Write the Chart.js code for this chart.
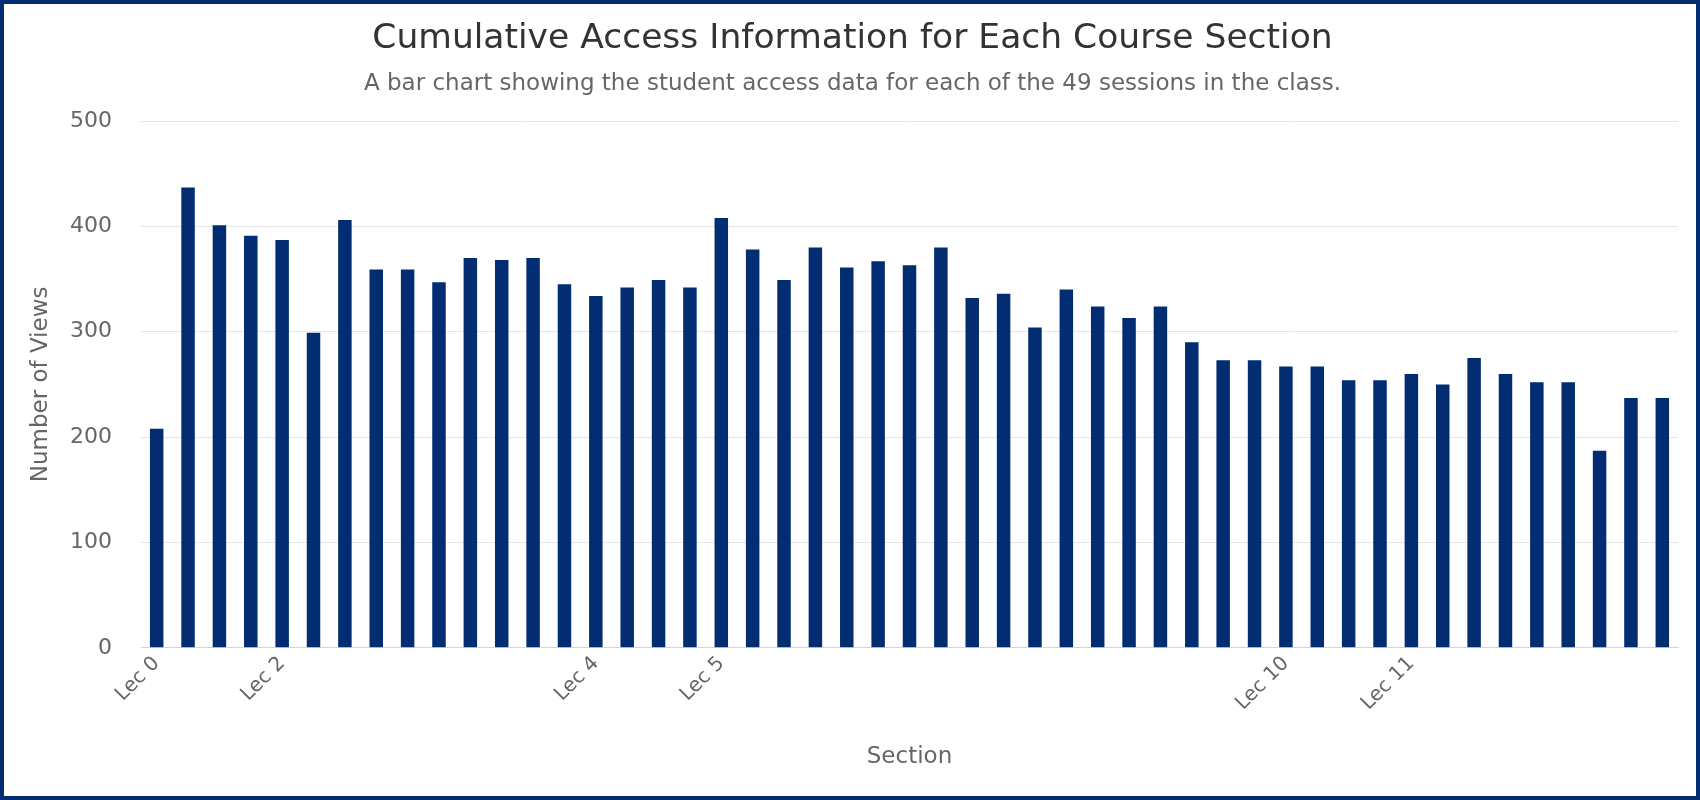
<!DOCTYPE html>
<html lang="en">
<head>
<meta charset="UTF-8">
<title>Cumulative Access Information for Each Course Section</title>
<script src="https://cdn.jsdelivr.net/npm/chart.js"></script>
<style>
html, body {
margin: 0;
padding: 0;
background: #ffffff;
}
.frame {
width: 1700px;
height: 800px;
box-sizing: border-box;
border: 4px solid #022d73;
background: #ffffff;
}
.chart-box {
position: relative;
width: 1692px;
height: 792px;
}
</style>
</head>
<body>
<div class="frame">
<div class="chart-box">
<canvas id="accessChart"></canvas>
</div>
</div>

<script>
// 49 sessions; only the first session of some lectures carries a label
const sectionLabels = [
"Lec 0", "", "", "", "Lec 2", "", "", "", "", "",
"", "", "", "", "Lec 4", "", "", "", "Lec 5", "",
"", "", "", "", "", "", "", "", "", "",
"", "", "", "", "", "", "Lec 10", "", "", "",
"Lec 11", "", "", "", "", "", "", "", ""
];

// Number of views per session
const viewCounts = [
208, 437, 401, 391, 387, 299, 406, 359, 359, 347,
370, 368, 370, 345, 334, 342, 349, 342, 408, 378,
349, 380, 361, 367, 363, 380, 332, 336, 304, 340,
324, 313, 324, 290, 273, 273, 267, 267, 254, 254,
260, 250, 275, 260, 252, 252, 187, 237, 237
];

const yTicks = [0, 100, 200, 300, 400, 500];

const fontFamily = "'DejaVu Sans', Verdana, sans-serif";
const barColor = '#022d73';

const ctx = document.getElementById('accessChart').getContext('2d');

new Chart(ctx, {
type: 'bar',
data: {
labels: sectionLabels,
datasets: [{
label: 'Views',
data: viewCounts,
backgroundColor: barColor,
borderWidth: 0,
categoryPercentage: 1.0,
barPercentage: 0.43
}]
},
options: {
responsive: true,
maintainAspectRatio: false,
animation: false,
layout: {
padding: { left: 23, right: 18, top: 0, bottom: 25 }
},
plugins: {
legend: { display: false },
tooltip: { enabled: false },
title: {
display: true,
text: 'Cumulative Access Information for Each Course Section',
color: '#333333',
font: { family: fontFamily, size: 34.5, weight: 'normal' },
padding: { top: 14, bottom: 11 }
},
subtitle: {
display: true,
text: 'A bar chart showing the student access data for each of the 49 sessions in the class.',
color: '#666666',
font: { family: fontFamily, size: 23, weight: 'normal' },
padding: { top: 0, bottom: 23 }
}
},
scales: {
x: {
grid: { display: false, drawTicks: false },
border: { display: true, color: '#ccd6eb', width: 1 },
ticks: {
autoSkip: false,
maxRotation: 45,
minRotation: 45,
color: '#666666',
font: { family: fontFamily, size: 20 },
padding: 4
},
title: {
display: true,
text: 'Section',
color: '#666666',
font: { family: fontFamily, size: 23 },
padding: { top: 24, bottom: 0 }
}
},
y: {
min: 0,
max: 500,
afterBuildTicks: function(axis) {
axis.ticks = yTicks.map(v => ({ value: v }));
},
afterFit: function(axis) {
// fixed width so the plot starts where the original one does
axis.width = 114;
},
grid: { color: '#e6e6e6', lineWidth: 1, drawTicks: false },
border: { display: false },
ticks: {
color: '#666666',
font: { family: fontFamily, size: 22 },
padding: 29
},
title: {
display: true,
text: 'Number of Views',
color: '#666666',
font: { family: fontFamily, size: 23 },
padding: { top: 0, bottom: 0 }
}
}
}
}
});
</script>
</body>
</html>
